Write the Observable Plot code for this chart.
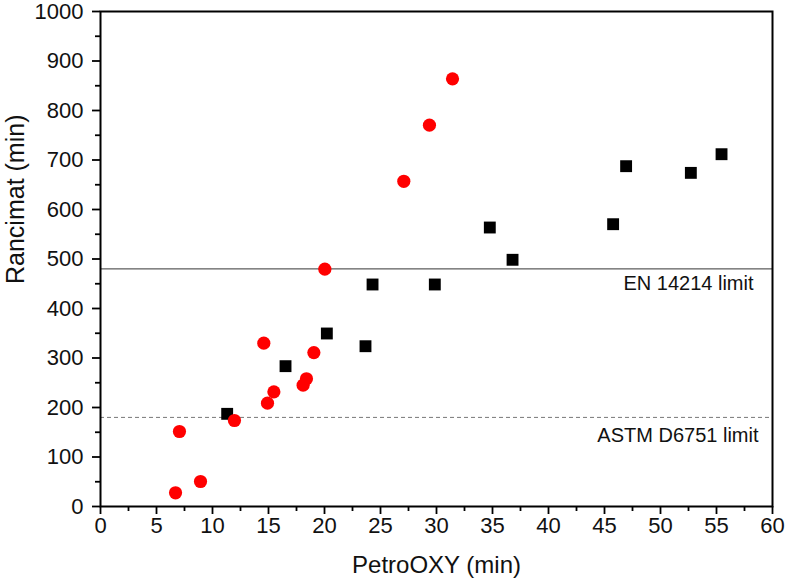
<!DOCTYPE html>
<html>
<head>
<meta charset="utf-8">
<script src="https://cdn.jsdelivr.net/npm/d3@7"></script>
<script src="https://cdn.jsdelivr.net/npm/@observablehq/plot@0.6"></script>
<style>
  body { margin: 0; background: #fff; }
  #chart svg { font-family: "Liberation Sans", Arial, sans-serif; }
</style>
</head>
<body>
<div id="chart"></div>
<script>
// Red circles series
const redX = [6.70, 7.05, 8.93, 11.96, 14.58, 14.91, 15.48, 18.09, 18.39, 19.05, 20.03, 27.08, 29.37, 31.43];
const redY = [27.7, 151.5, 50.5, 173.7, 330, 208.8, 231.6, 245.2, 258, 311, 479.5, 657, 770.4, 864];
// Black squares series
const blackX = [11.31, 16.52, 20.21, 23.66, 24.29, 29.85, 34.76, 36.79, 45.77, 46.93, 52.71, 55.45];
const blackY = [187.2, 283.5, 349.5, 323.8, 448.5, 448.5, 563.6, 498.4, 570.3, 687.5, 674, 711.7];
// Limits
const limitNames = ["EN 14214 limit", "ASTM D6751 limit"];
const limitValues = [480, 180];
// Ticks
const xTicks = [0, 5, 10, 15, 20, 25, 30, 35, 40, 45, 50, 55, 60];
const xMinor = [2.5, 7.5, 12.5, 17.5, 22.5, 27.5, 32.5, 37.5, 42.5, 47.5, 52.5, 57.5];
const yTicks = [0, 100, 200, 300, 400, 500, 600, 700, 800, 900, 1000];
const yMinor = [50, 150, 250, 350, 450, 550, 650, 750, 850, 950];

const red = redX.map((x, i) => ({x, y: redY[i]}));
const black = blackX.map((x, i) => ({x, y: blackY[i]}));
const limits = limitNames.map((name, i) => ({name, value: limitValues[i]}));

const chart = Plot.plot({
  width: 787,
  height: 586,
  marginLeft: 100,
  marginRight: 15,
  marginTop: 11,
  marginBottom: 80,
  x: {domain: [0, 60]},
  y: {domain: [0, 1000]},
  style: {fontFamily: "'Liberation Sans', Arial, sans-serif", fontSize: "20px", color: "#000", background: "white"},
  marks: [
    Plot.ruleY([limits[0]], {y: "value", stroke: "#000", strokeWidth: 0.8}),
    Plot.ruleY([limits[1]], {y: "value", stroke: "#777", strokeWidth: 1, strokeDasharray: "4,3"}),
    Plot.text([limits[0]], {y: "value", x: 60, text: "name", textAnchor: "end", dx: -19, dy: 14.5, fontSize: 20, fill: "#111"}),
    Plot.text([limits[1]], {y: "value", x: 60, text: "name", textAnchor: "end", dx: -14, dy: 18, fontSize: 20, fill: "#111"}),
    Plot.dot(black, {x: "x", y: "y", symbol: "square", r: 6.7, fill: "#000", stroke: "none"}),
    Plot.dot(red, {x: "x", y: "y", symbol: "circle", r: 6.6, fill: "#ff0000", stroke: "none"}),
    Plot.frame({stroke: "#000", strokeWidth: 2}),
    Plot.axisX(xTicks, {tickSize: 8, tickFormat: () => "", strokeWidth: 1.8, label: null}),
    Plot.axisX(xMinor, {tickSize: 5, tickFormat: () => "", strokeWidth: 1.8, label: null}),
    Plot.axisY(yTicks, {tickSize: 8, tickFormat: () => "", strokeWidth: 1.8, label: null}),
    Plot.axisY(yMinor, {tickSize: 5, tickFormat: () => "", strokeWidth: 1.8, label: null}),
    Plot.text(xTicks, {x: d => d, frameAnchor: "bottom", dy: 26, text: d => String(d), fontSize: 22, fill: "#111"}),
    Plot.text(yTicks, {y: d => d, frameAnchor: "left", dx: -17, textAnchor: "end", text: d => String(d), fontSize: 22, fill: "#111"}),
    Plot.text(["PetroOXY (min)"], {frameAnchor: "bottom", dy: 66, fontSize: 24, fill: "#111"}),
    Plot.text(["Rancimat (min)"], {frameAnchor: "left", dx: -85, dy: 25, rotate: -90, fontSize: 25, fill: "#111"})
  ]
});
document.getElementById("chart").appendChild(chart);
</script>
</body>
</html>
